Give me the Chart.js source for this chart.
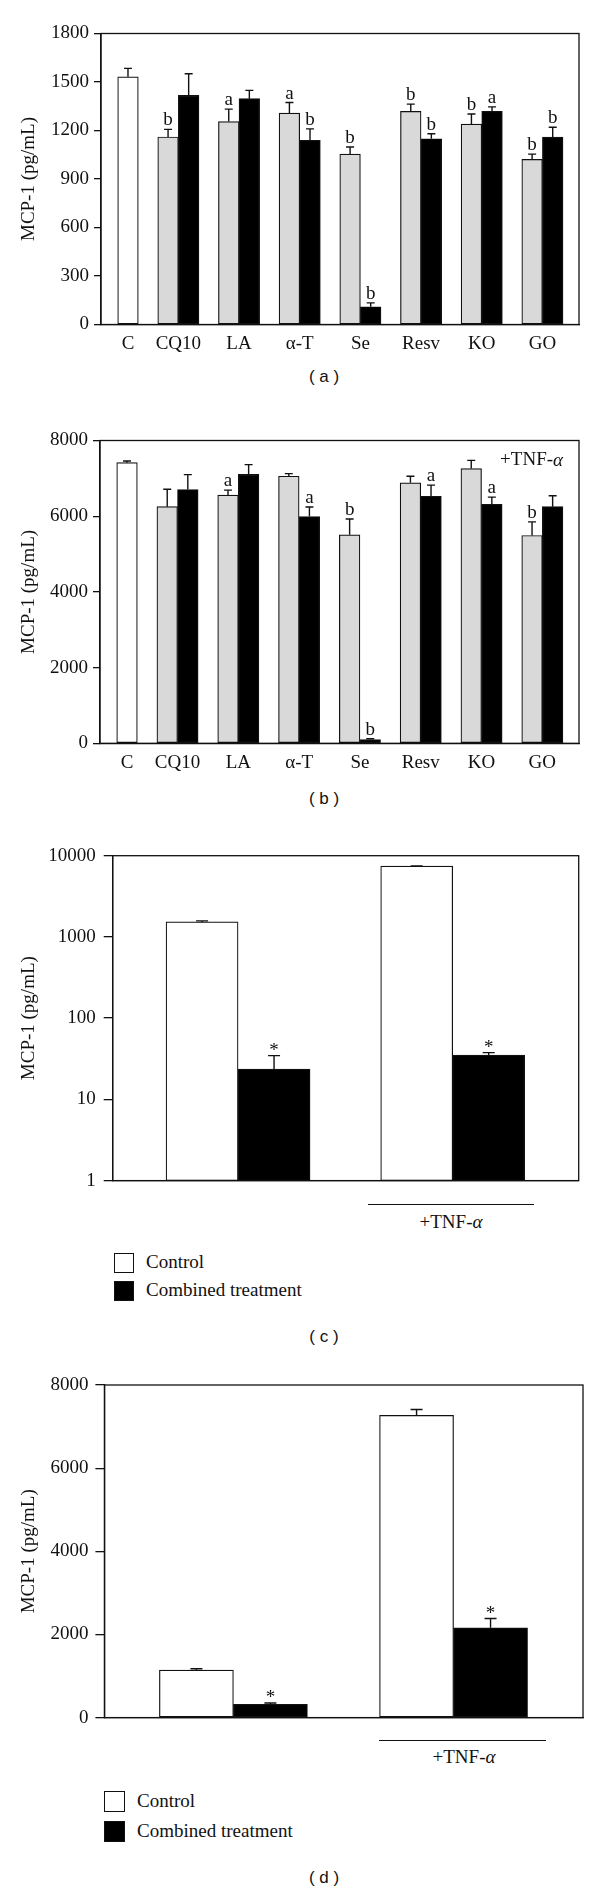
<!DOCTYPE html>
<html>
<head>
<meta charset="utf-8">
<script src="https://cdn.jsdelivr.net/npm/chart.js@4.4.1/dist/chart.umd.min.js"></script>
<style>
  body { margin: 0; background: #fff; }
  #page { position: relative; width: 600px; height: 1889px; background: #fff; color: #111; font-family: 'Liberation Serif', 'Times New Roman', serif; overflow: hidden; }
  canvas { position: absolute; left: 0; }
  .caption { position: absolute; width: 80px; margin-left: -40px; height: 20px; line-height: 20px; text-align: center; font-family: 'Liberation Sans', Arial, sans-serif; font-size: 17px; }
  .box { position: absolute; box-sizing: border-box; border: 1.3px solid #111; background: #fff; }
  .box.dark { background: #000; }
  .txt { position: absolute; font-size: 19px; height: 22px; line-height: 22px; white-space: nowrap; }
  .rule { position: absolute; height: 0; border-top: 1.3px solid #111; }
  .center { width: 200px; margin-left: -100px; text-align: center; }
</style>
</head>
<body>
<div id="page">
  <canvas id="chartA" width="600" height="360" style="top:0px"></canvas>
  <div class="caption" style="left:324px; top:367px">( a )</div>

  <canvas id="chartB" width="600" height="380" style="top:400px"></canvas>
  <div class="caption" style="left:324px; top:789px">( b )</div>

  <canvas id="chartC" width="600" height="380" style="top:820px"></canvas>
  <div class="rule" style="left:368px; width:166px; top:1204px"></div>
  <div class="txt center" style="left:451px; top:1211px">+TNF-<i>α</i></div>
  <div class="box" style="left:114px; top:1253px; width:20px; height:20px"></div>
  <div class="txt" style="left:146px; top:1251px">Control</div>
  <div class="box dark" style="left:114px; top:1281px; width:20px; height:20px"></div>
  <div class="txt" style="left:146px; top:1279px">Combined treatment</div>
  <div class="caption" style="left:324px; top:1327px">( c )</div>

  <canvas id="chartD" width="600" height="386" style="top:1350px"></canvas>
  <div class="rule" style="left:379px; width:167px; top:1740px"></div>
  <div class="txt center" style="left:464px; top:1746px">+TNF-<i>α</i></div>
  <div class="box" style="left:104px; top:1791px; width:21px; height:21px"></div>
  <div class="txt" style="left:137px; top:1790px">Control</div>
  <div class="box dark" style="left:104px; top:1821px; width:21px; height:21px"></div>
  <div class="txt" style="left:137px; top:1820px">Combined treatment</div>
  <div class="caption" style="left:324px; top:1868px">( d )</div>
</div>

<script>
const serif = "'Liberation Serif', 'Times New Roman', serif";

const categories = ['C', 'CQ10', 'LA', 'α-T', 'Se', 'Resv', 'KO', 'GO'];

const yTicksA = [0, 300, 600, 900, 1200, 1500, 1800];
const yTicksB = [0, 2000, 4000, 6000, 8000];
const yTicksC = [1, 10, 100, 1000, 10000];
const yTicksD = [0, 2000, 4000, 6000, 8000];

// (a) no TNF: gray = left bar, dark = right bar (C control is the white one)
const grayA = [null, 1160, 1255, 1308, 1054, 1318, 1239, 1021];
const grayErrA = [null, 47, 77, 65, 44, 45, 63, 33];
const grayMarkA = ['', 'b', 'a', 'a', 'b', 'b', 'b', 'b'];
const darkA = [1532, 1418, 1397, 1139, 110, 1149, 1318, 1159];
const darkErrA = [52, 133, 51, 71, 24, 31, 28, 61];
const darkMarkA = ['', '', '', 'b', 'b', 'b', 'a', 'b'];

// (b) +TNF-alpha
const grayB = [null, 6251, 6557, 7056, 5508, 6881, 7257, 5490];
const grayErrB = [null, 463, 132, 70, 420, 175, 218, 359];
const grayMarkB = ['', '', 'a', '', 'b', '', '', 'b'];
const darkB = [7414, 6706, 7108, 5989, 100, 6522, 6313, 6251];
const darkErrB = [44, 393, 254, 254, 20, 298, 192, 289];
const darkMarkB = ['', '', '', 'a', 'b', 'a', 'a', ''];

// (c) log scale, control vs combined treatment
const controlC = [1530, 7430];
const controlErrC = [45, 70];
const combinedC = [23.6, 35.1];
const combinedErrC = [11, 2.5];
const combinedMarkC = ['*', '*'];

// (d) linear scale
const controlD = [1144, 7269];
const controlErrD = [32, 143];
const combinedD = [318, 2161];
const combinedErrD = [32, 222];
const combinedMarkD = ['*', '*'];

const toPoints = arr => arr.map((v, i) => ({ x: i, y: v }));

const frame = {
  id: 'frame',
  afterDraw(chart) {
    const { ctx, chartArea: a } = chart;
    ctx.save();
    ctx.strokeStyle = '#111';
    ctx.lineWidth = 1.3;
    ctx.strokeRect(a.left, a.top, a.right - a.left, a.bottom - a.top);
    ctx.restore();
  }
};

const errorBars = {
  id: 'errorBars',
  afterDatasetsDraw(chart, args, opts) {
    const { ctx } = chart;
    const y = chart.scales.y;
    ctx.save();
    ctx.strokeStyle = '#111';
    ctx.fillStyle = '#111';
    ctx.lineWidth = 1.4;
    ctx.textAlign = 'center';
    ctx.textBaseline = 'alphabetic';
    ctx.font = opts.markSize + 'px ' + serif;
    chart.data.datasets.forEach((ds, di) => {
      const meta = chart.getDatasetMeta(di);
      meta.data.forEach((bar, i) => {
        const v = ds.data[i].y;
        if (v == null) return;
        const err = ds.errors ? ds.errors[i] : 0;
        const top = err ? y.getPixelForValue(v + err) : bar.y;
        if (err) {
          ctx.beginPath();
          ctx.moveTo(bar.x, bar.y);
          ctx.lineTo(bar.x, top);
          ctx.moveTo(bar.x - opts.cap / 2, top);
          ctx.lineTo(bar.x + opts.cap / 2, top);
          ctx.stroke();
        }
        const m = ds.marks ? ds.marks[i] : '';
        if (m) {
          const gap = m === '*' ? 0 : 4;
          ctx.fillText(m, bar.x, top - gap);
        }
      });
    });
    ctx.restore();
  }
};

const cornerText = {
  id: 'cornerText',
  afterDraw(chart, args, opts) {
    if (!opts.show) return;
    const { ctx, chartArea: a } = chart;
    ctx.save();
    ctx.fillStyle = '#111';
    ctx.textBaseline = 'middle';
    ctx.textAlign = 'left';
    ctx.font = '19px ' + serif;
    const w1 = ctx.measureText('+TNF-').width;
    ctx.font = 'italic 19px ' + serif;
    const w2 = ctx.measureText('α').width;
    const x0 = a.right - 16 - w1 - w2;
    const yy = a.top + 20;
    ctx.font = '19px ' + serif;
    ctx.fillText('+TNF-', x0, yy);
    ctx.font = 'italic 19px ' + serif;
    ctx.fillText('α', x0 + w1, yy);
    ctx.restore();
  }
};

function barSet(values, errors, marks, color, thickness) {
  return {
    data: toPoints(values),
    errors: errors,
    marks: marks,
    backgroundColor: color,
    borderColor: '#111',
    borderWidth: 1.2,
    borderSkipped: false,
    barThickness: thickness
  };
}

function makeChart(id, p) {
  const yScale = {
    type: p.log ? 'logarithmic' : 'linear',
    min: p.yTicks[0],
    max: p.yTicks[p.yTicks.length - 1],
    afterBuildTicks: s => { s.ticks = p.yTicks.map(v => ({ value: v })); },
    afterFit: s => { s.width = p.left; },
    grid: { drawOnChartArea: false, drawTicks: true, tickLength: p.tickLen, color: '#111', lineWidth: 1.3 },
    border: { display: true, color: '#111', width: 1.3 },
    ticks: { color: '#111', padding: p.tickPad, font: { family: serif, size: 19 }, callback: v => String(v) },
    title: { display: true, text: 'MCP-1 (pg/mL)', color: '#111', font: { family: serif, size: 19 }, padding: { top: 18, bottom: 0 } }
  };
  const xScale = {
    type: 'linear',
    min: p.xMin,
    max: p.xMax,
    offset: false,
    afterFit: s => { s.height = p.xHeight; },
    grid: { display: false, drawTicks: false, tickLength: 0 },
    border: { display: true, color: '#111', width: 1.3 },
    ticks: {
      display: !!p.labels,
      autoSkip: false,
      maxRotation: 0,
      padding: 8,
      color: '#111',
      font: { family: serif, size: 19 },
      callback: (v, idx) => p.labels ? p.labels[idx] : ''
    }
  };
  if (p.labels) {
    // the control bar sits alone on the right half of its slot, so its label follows the bar
    xScale.afterBuildTicks = s => {
      s.ticks = p.labels.map((c, i) => ({ value: i === 0 ? p.firstShift : i }));
    };
  }
  return new Chart(document.getElementById(id), {
    type: 'bar',
    data: { datasets: p.datasets },
    options: {
      responsive: false,
      animation: false,
      devicePixelRatio: 1,
      layout: { padding: { left: 0, top: p.top, right: p.right, bottom: 0 } },
      plugins: {
        legend: { display: false },
        tooltip: { enabled: false },
        errorBars: { cap: p.cap, markSize: p.markSize },
        cornerText: { show: !!p.corner }
      },
      scales: { x: xScale, y: yScale }
    },
    plugins: [frame, errorBars, cornerText]
  });
}

const whiteFirst = arr => arr.map((v, i) => i === 0 ? '#ffffff' : '#000000');

makeChart('chartA', {
  top: 33.5, right: 21, left: 101, xHeight: 35.5,
  xMin: -0.275, xMax: 7.603, labels: categories, firstShift: 0.17,
  yTicks: yTicksA, tickLen: 7, tickPad: 5, cap: 8, markSize: 19,
  datasets: [
    barSet(grayA, grayErrA, grayMarkA, '#d9d9d9', 20.6),
    barSet(darkA, darkErrA, darkMarkA, whiteFirst(darkA), 20.6)
  ]
});

makeChart('chartB', {
  top: 40.5, right: 21, left: 100, xHeight: 36.7,
  xMin: -0.275, xMax: 7.603, labels: categories, firstShift: 0.17, corner: true,
  yTicks: yTicksB, tickLen: 7, tickPad: 5, cap: 8, markSize: 19,
  datasets: [
    barSet(grayB, grayErrB, grayMarkB, '#d9d9d9', 20.6),
    barSet(darkB, darkErrB, darkMarkB, whiteFirst(darkB), 20.6)
  ]
});

makeChart('chartC', {
  top: 35.7, right: 21.3, left: 112.7, xHeight: 11, log: true,
  xMin: -0.584, xMax: 1.587, labels: null,
  yTicks: yTicksC, tickLen: 9, tickPad: 8, cap: 12, markSize: 19,
  datasets: [
    barSet(controlC, controlErrC, ['', ''], '#ffffff', 72),
    barSet(combinedC, combinedErrC, combinedMarkC, '#000000', 72)
  ]
});

makeChart('chartD', {
  top: 35, right: 17, left: 104.4, xHeight: 10.2,
  xMin: -0.586, xMax: 1.588, labels: null,
  yTicks: yTicksD, tickLen: 9, tickPad: 7, cap: 12, markSize: 19,
  datasets: [
    barSet(controlD, controlErrD, ['', ''], '#ffffff', 74),
    barSet(combinedD, combinedErrD, combinedMarkD, '#000000', 74)
  ]
});
</script>
</body>
</html>
